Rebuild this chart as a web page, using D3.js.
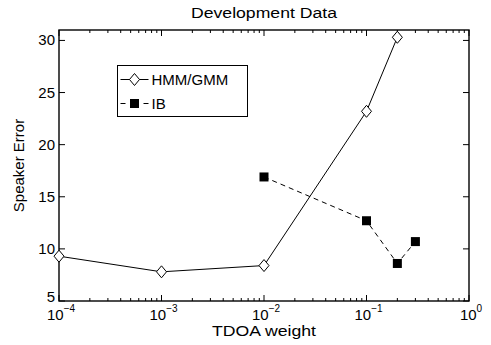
<!DOCTYPE html>
<html>
<head>
<meta charset="utf-8">
<script src="https://cdn.jsdelivr.net/npm/d3@7"></script>
<style>
  body { margin: 0; background: #fff; }
  text { font-family: "Liberation Sans", Arial, sans-serif; fill: #000; }
</style>
</head>
<body>
<div id="chart"></div>
<script>
// values
const hmmX = [1e-4, 1e-3, 1e-2, 1e-1, 0.2];
const hmmY = [9.3, 7.8, 8.4, 23.2, 30.3];
const ibX = [1e-2, 1e-1, 0.2, 0.3];
const ibY = [16.9, 12.7, 8.6, 10.7];
const xTickExp = [-4, -3, -2, -1, 0];
const yTicks = [5, 10, 15, 20, 25, 30];

let width = 491;
let height = 345;
let margin = { top: 30, right: 22, bottom: 44, left: 59 };
let w = width - margin.left - margin.right;
let h = height - margin.top - margin.bottom;

let svg = d3.select("#chart").append("svg").attr("width", width).attr("height", height);
let g = svg.append("g").attr("transform", "translate(" + margin.left + "," + margin.top + ")");

let x = d3.scaleLog().domain([1e-4, 1]).range([0, w]);
let y = d3.scaleLinear().domain([5, 31]).range([h, 0]);

// minor ticks for the log axis
let minor = [];
for (let e = -4; e < 0; e++) {
  for (let m = 2; m <= 9; m++) minor.push(m * Math.pow(10, e));
}

// box
g.append("rect").attr("width", w).attr("height", h).attr("fill", "none").attr("stroke", "#000").attr("stroke-width", 1.4);

// x ticks (bottom & top, inward)
xTickExp.forEach(function(e) {
  let px = x(Math.pow(10, e));
  g.append("line").attr("x1", px).attr("x2", px).attr("y1", h).attr("y2", h - 6).attr("stroke", "#000");
  g.append("line").attr("x1", px).attr("x2", px).attr("y1", 0).attr("y2", 6).attr("stroke", "#000");
  let t = g.append("text").attr("x", px + 2).attr("y", h + 19).attr("text-anchor", "middle").attr("font-size", 15);
  t.append("tspan").text("10");
  t.append("tspan").attr("dy", -8).attr("font-size", 10).text(e == 0 ? "0" : "\u2212" + (-e));
});
minor.forEach(function(v) {
  let px = x(v);
  g.append("line").attr("x1", px).attr("x2", px).attr("y1", h).attr("y2", h - 3).attr("stroke", "#000");
  g.append("line").attr("x1", px).attr("x2", px).attr("y1", 0).attr("y2", 3).attr("stroke", "#000");
});

// y ticks (left & right, inward)
yTicks.forEach(function(v) {
  let py = y(v);
  g.append("line").attr("x1", 0).attr("x2", 6).attr("y1", py).attr("y2", py).attr("stroke", "#000");
  g.append("line").attr("x1", w).attr("x2", w - 6).attr("y1", py).attr("y2", py).attr("stroke", "#000");
  g.append("text").attr("x", -4).attr("y", v == 5 ? py + 1 : py + 5).attr("text-anchor", "end").attr("font-size", 15).text(v);
});

// labels
svg.append("text").attr("x", margin.left + w / 2).attr("y", 18).attr("text-anchor", "middle").attr("font-size", 14)
  .attr("textLength", 146).attr("lengthAdjust", "spacingAndGlyphs").text("Development Data");
svg.append("text").attr("x", margin.left + w / 2).attr("y", 336).attr("text-anchor", "middle").attr("font-size", 14)
  .attr("textLength", 104).attr("lengthAdjust", "spacingAndGlyphs").text("TDOA weight");
svg.append("text").attr("transform", "translate(24," + (margin.top + h / 2) + ") rotate(-90)").attr("text-anchor", "middle").attr("font-size", 15).text("Speaker Error");

// HMM/GMM line
let hmm = hmmX.map(function(d, i) { return [d, hmmY[i]]; });
let ib = ibX.map(function(d, i) { return [d, ibY[i]]; });
let line = d3.line().x(function(d) { return x(d[0]); }).y(function(d) { return y(d[1]); });

g.append("path").datum(hmm).attr("d", line).attr("fill", "none").attr("stroke", "#000").attr("stroke-width", 1);
g.append("path").datum(ib).attr("d", line).attr("fill", "none").attr("stroke", "#000").attr("stroke-width", 1).attr("stroke-dasharray", "5,4");

g.selectAll(".dia").data(hmm).enter().append("path")
  .attr("transform", function(d) { return "translate(" + x(d[0]) + "," + y(d[1]) + ")"; })
  .attr("d", "M0,-6L5,0L0,6L-5,0Z").attr("fill", "#fff").attr("stroke", "#000").attr("stroke-width", 1);
g.selectAll(".sq").data(ib).enter().append("rect")
  .attr("x", function(d) { return x(d[0]) - 4.5; }).attr("y", function(d) { return y(d[1]) - 4.5; })
  .attr("width", 9).attr("height", 9).attr("fill", "#000");

// legend
let lg = svg.append("g").attr("transform", "translate(117.5,65.5)");
lg.append("rect").attr("width", 130).attr("height", 51).attr("fill", "#fff").attr("stroke", "#000").attr("stroke-width", 1);
lg.append("line").attr("x1", 3).attr("x2", 31).attr("y1", 14).attr("y2", 14).attr("stroke", "#000");
lg.append("path").attr("transform", "translate(17,14)").attr("d", "M0,-6L5,0L0,6L-5,0Z").attr("fill", "#fff").attr("stroke", "#000");
lg.append("text").attr("x", 34).attr("y", 19.5).attr("font-size", 15).text("HMM/GMM");
lg.append("line").attr("x1", 3).attr("x2", 31).attr("y1", 38).attr("y2", 38).attr("stroke", "#000").attr("stroke-dasharray", "5,18");
lg.append("rect").attr("x", 12.5).attr("y", 33.5).attr("width", 9).attr("height", 9).attr("fill", "#000");
lg.append("text").attr("x", 34).attr("y", 43.5).attr("font-size", 15).text("IB");
</script>
</body>
</html>
